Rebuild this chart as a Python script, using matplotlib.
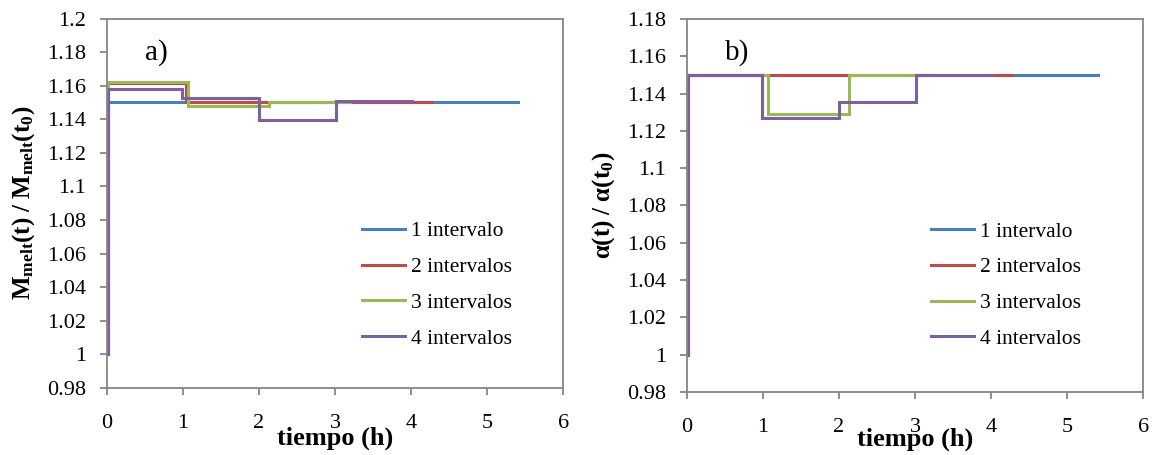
import matplotlib
matplotlib.use("Agg")
import matplotlib.pyplot as plt
import numpy as np

plt.rcParams['font.family'] = ['Liberation Serif', 'DejaVu Serif']
plt.rcParams['mathtext.fontset'] = 'custom'
plt.rcParams['mathtext.rm'] = 'Liberation Serif'
plt.rcParams['mathtext.it'] = 'Liberation Serif:italic'
plt.rcParams['mathtext.bf'] = 'Liberation Serif:bold'

# ---- data ----
series_labels = ["1 intervalo", "2 intervalos", "3 intervalos", "4 intervalos"]
colors = ["#4A7EBB", "#BE4B48", "#98B954", "#7D60A0"]

# panel a) M_melt(t)/M_melt(t0)
a_t1 = [0, 0.02, 5.40]
a_v1 = [1.0, 1.150, 1.150]
a_t2 = [0, 0.02, 1.04, 4.28]
a_v2 = [1.0, 1.1615, 1.1505, 1.1505]
a_t3 = [0, 0.02, 1.066, 2.135, 3.2]
a_v3 = [1.0, 1.162, 1.148, 1.150, 1.150]
a_t4 = [0, 0.02, 0.995, 2.0, 3.01, 4.01]
a_v4 = [1.0, 1.158, 1.1525, 1.1395, 1.151, 1.151]

# panel b) alpha(t)/alpha(t0)
b_t1 = [0, 0.02, 5.40]
b_v1 = [1.0, 1.150, 1.150]
b_t2 = [0, 0.02, 1.04, 4.28]
b_v2 = [1.0, 1.150, 1.150, 1.150]
b_t3 = [0, 0.02, 1.066, 2.135, 3.2]
b_v3 = [1.0, 1.150, 1.129, 1.150, 1.150]
b_t4 = [0, 0.02, 0.995, 2.0, 3.01, 4.01]
b_v4 = [1.0, 1.150, 1.127, 1.1355, 1.150, 1.150]

a_yticks = [0.98, 1.0, 1.02, 1.04, 1.06, 1.08, 1.1, 1.12, 1.14, 1.16, 1.18, 1.2]
b_yticks = [0.98, 1.0, 1.02, 1.04, 1.06, 1.08, 1.1, 1.12, 1.14, 1.16, 1.18]
xticks = [0, 1, 2, 3, 4, 5, 6]

fig = plt.figure(figsize=(11.54, 4.55), dpi=100)
axA = fig.add_axes([0.0925, 0.1473, 0.3957, 0.812])
axB = fig.add_axes([0.5951, 0.1385, 0.3957, 0.8198])

spine_col = "#868686"
fs = 16
lfs = 15.5

def style(ax, yticks, ylab, letter, leg_anchor):
    ax.set_xlim(0, 6)
    ax.set_ylim(yticks[0], yticks[-1])
    ax.set_xticks(xticks)
    ax.set_xticklabels([str(v) for v in xticks])
    ax.set_yticks(yticks)
    ax.set_yticklabels(["%g" % v for v in yticks])
    for s in ax.spines.values():
        s.set_color(spine_col)
        s.set_linewidth(1.3)
    ax.tick_params(axis='both', direction='out', color=spine_col, width=1.3,
                   length=5, labelsize=fs)
    ax.tick_params(axis='y', pad=10)
    ax.tick_params(axis='x', pad=14)
    ax.set_xlabel("tiempo (h)", fontsize=19, fontweight='bold')
    ax.set_ylabel(ylab, fontsize=18)
    ax.text(0.084, 0.909, letter, transform=ax.transAxes, fontsize=21,
            ha='left', va='center')
    ax.legend(loc='upper left', bbox_to_anchor=leg_anchor, frameon=False,
              fontsize=lfs, handlelength=2.0, handletextpad=0.31,
              labelspacing=0.73, borderpad=0, borderaxespad=0)

for t, v, c, lab in zip([a_t1, a_t2, a_t3, a_t4], [a_v1, a_v2, a_v3, a_v4], colors, series_labels):
    axA.plot(t, v, drawstyle='steps-post', color=c, lw=2.2, label=lab, solid_joinstyle='miter')
for t, v, c, lab in zip([b_t1, b_t2, b_t3, b_t4], [b_v1, b_v2, b_v3, b_v4], colors, series_labels):
    axB.plot(t, v, drawstyle='steps-post', color=c, lw=2.2, label=lab, solid_joinstyle='miter')

style(axA, a_yticks, r'$\mathbf{M_{melt}(t)\ /\ M_{melt}(t_0)}$', "a)", (0.558, 0.451))
style(axB, b_yticks, r'$\mathbf{\alpha(t)\ /\ \alpha(t_0)}$', "b)", (0.534, 0.457))

axA.xaxis.set_label_coords(0.5, -0.105)
axB.xaxis.set_label_coords(0.5, -0.095)
axA.yaxis.set_label_coords(-0.152, 0.5)
axB.yaxis.set_label_coords(-0.153, 0.5)

fig.savefig("out.png", dpi=100)
